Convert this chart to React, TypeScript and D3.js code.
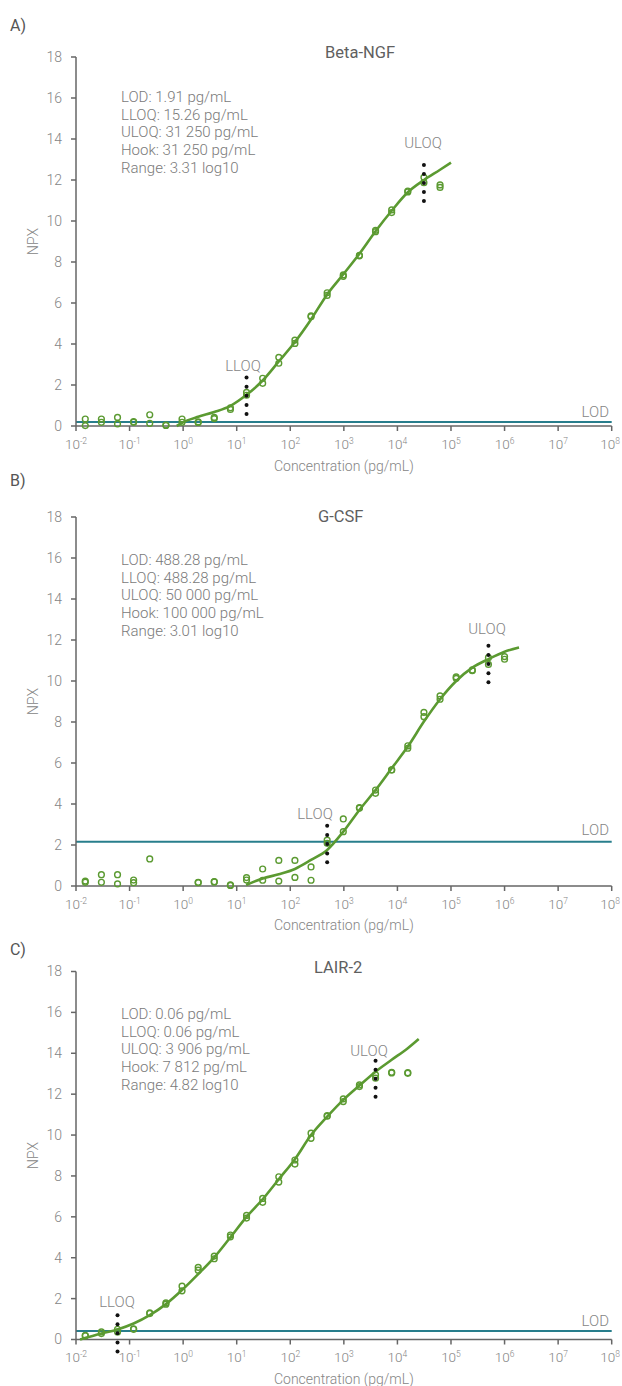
import React from 'react';
import * as d3 from 'd3';

// Concentrations (pg/mL), 2-fold dilution series
const CONC = [1000000, 500000, 250000, 125000, 62500, 31250, 15625, 7812.5, 3906.25, 1953.13, 976.56, 488.28, 244.14, 122.07, 61.04, 30.52, 15.26, 7.63, 3.81, 1.91, 0.954, 0.477, 0.238, 0.119, 0.0596, 0.0298, 0.0149];

const A_REP1 = [null, null, null, null, 11.76, 12.13, 11.46, 10.54, 9.55, 8.33, 7.37, 6.5, 5.37, 4.19, 3.35, 2.33, 1.64, 0.89, 0.42, 0.2, 0.34, 0.03, 0.55, 0.21, 0.42, 0.34, 0.34];
const A_REP2 = [null, null, null, null, 11.64, 11.87, 11.42, 10.41, 9.48, 8.3, 7.3, 6.37, 5.33, 4.03, 3.06, 2.08, 1.5, 0.81, 0.36, 0.17, 0.18, 0.05, 0.13, 0.18, 0.1, 0.18, 0.02];
const B_REP1 = [11.19, 11.14, 10.54, 10.13, 9.27, 8.47, 6.84, 5.66, 4.68, 3.82, 3.27, 2.24, 0.93, 1.25, 1.25, 0.83, 0.41, 0.05, 0.21, 0.18, null, null, 1.32, 0.29, 0.55, 0.55, 0.24];
const B_REP2 = [11.06, 10.81, 10.5, 10.2, 9.11, 8.26, 6.72, 5.66, 4.52, 3.8, 2.65, 2.08, 0.28, 0.42, 0.24, 0.28, 0.29, 0.03, 0.2, 0.16, null, null, null, 0.16, 0.1, 0.18, 0.18];
const C_REP1 = [null, null, null, null, null, null, 13.05, 13.07, 12.94, 12.45, 11.77, 10.95, 10.09, 8.78, 7.96, 6.9, 6.07, 5.11, 4.08, 3.53, 2.61, 1.79, 1.3, 0.5, 0.5, 0.37, 0.2];
const C_REP2 = [null, null, null, null, null, null, 13.02, 13.04, 12.78, 12.37, 11.64, 10.92, 9.84, 8.58, 7.7, 6.71, 5.94, 5.02, 3.95, 3.39, 2.38, 1.73, 1.27, 0.52, 0.37, 0.29, 0.18];

// Fitted curves
const A_FIT_X = [0.76, 1.17, 1.91, 3.81, 7.63, 15.26, 30.52, 61.04, 122.07, 244.14, 488.28, 976.56, 1953.13, 3906.25, 7812.5, 15625, 31250, 62500, 100000];
const A_FIT_Y = [0, 0.26, 0.45, 0.68, 0.98, 1.52, 2.22, 3.15, 4.1, 5.2, 6.42, 7.4, 8.4, 9.5, 10.5, 11.4, 12.0, 12.5, 12.85];
const B_FIT_X = [15, 30.52, 61.04, 122.07, 244.14, 488.28, 976.56, 1953.13, 3906.25, 7812.5, 15625, 31250, 62500, 125000, 250000, 500000, 1000000, 1860000];
const B_FIT_Y = [0.05, 0.37, 0.57, 0.83, 1.27, 1.76, 2.65, 3.71, 4.68, 5.74, 6.8, 8.02, 9.11, 10.0, 10.65, 11.07, 11.43, 11.64];
const C_FIT_X = [0.0119, 0.0298, 0.0596, 0.119, 0.238, 0.477, 0.954, 1.91, 3.81, 7.63, 15.26, 30.52, 61.04, 122.07, 244.14, 488.28, 976.56, 1953.13, 3906.25, 7812.5, 15625, 25000];
const C_FIT_Y = [0, 0.29, 0.49, 0.78, 1.19, 1.73, 2.42, 3.2, 4.02, 5.0, 6.0, 6.86, 7.84, 8.82, 10.0, 10.9, 11.72, 12.42, 13.1, 13.68, 14.25, 14.7];

// LLOQ / ULOQ replicate markers
const A_LLOQ = { conc: 15.26, npx: [2.36, 1.92, 1.48, 1.02, 0.59] };
const A_ULOQ = { conc: 31250, npx: [12.73, 12.29, 11.85, 11.41, 10.98] };
const B_LLOQ = { conc: 488.28, npx: [2.94, 2.49, 2.05, 1.59, 1.16] };
const B_ULOQ = { conc: 500000, npx: [11.72, 11.27, 10.83, 10.38, 9.94] };
const C_LLOQ = { conc: 0.0596, npx: [1.19, 0.75, 0.31, -0.15, -0.59] };
const C_ULOQ = { conc: 3906.25, npx: [13.64, 13.2, 12.75, 12.31, 11.87] };

const LOD_NPX = [0.2, 2.16, 0.41];

const A_TEXT = ['LOD: 1.91 pg/mL', 'LLOQ: 15.26 pg/mL', 'ULOQ: 31 250 pg/mL', 'Hook: 31 250 pg/mL', 'Range: 3.31 log10'];
const B_TEXT = ['LOD: 488.28 pg/mL', 'LLOQ: 488.28 pg/mL', 'ULOQ: 50 000 pg/mL', 'Hook: 100 000 pg/mL', 'Range: 3.01 log10'];
const C_TEXT = ['LOD: 0.06 pg/mL', 'LLOQ: 0.06 pg/mL', 'ULOQ: 3 906 pg/mL', 'Hook: 7 812 pg/mL', 'Range: 4.82 log10'];

const X_EXPONENTS = [-2, -1, 0, 1, 2, 3, 4, 5, 6, 7, 8];
const Y_TICKS = [0, 2, 4, 6, 8, 10, 12, 14, 16, 18];

const GREEN = '#5b9a31';
const TEAL = '#287e8c';
const AXIS = '#666';
const TXT = '#858585';
const FONT = 'Roboto, "Liberation Sans", sans-serif';

const PANELS = [
  { label: 'A)', labelY: 25, title: 'Beta-NGF', titleX: 325, titleY: 52, top: 57, bottom: 426,
    r1: A_REP1, r2: A_REP2, fx: A_FIT_X, fy: A_FIT_Y, lloq: A_LLOQ, uloq: A_ULOQ, lod: LOD_NPX[0], text: A_TEXT,
    textY: 97, lloqLbl: [243, 366], uloqLbl: [423, 143], lodLblY: 412, titleYX: 466 },
  { label: 'B)', labelY: 480, title: 'G-CSF', titleX: 318, titleY: 516, top: 517, bottom: 886,
    r1: B_REP1, r2: B_REP2, fx: B_FIT_X, fy: B_FIT_Y, lloq: B_LLOQ, uloq: B_ULOQ, lod: LOD_NPX[1], text: B_TEXT,
    textY: 560, lloqLbl: [315, 814], uloqLbl: [487, 629], lodLblY: 830, titleYX: 925 },
  { label: 'C)', labelY: 949, title: 'LAIR-2', titleX: 314, titleY: 967, top: 971.5, bottom: 1339.5,
    r1: C_REP1, r2: C_REP2, fx: C_FIT_X, fy: C_FIT_Y, lloq: C_LLOQ, uloq: C_ULOQ, lod: LOD_NPX[2], text: C_TEXT,
    textY: 1014, lloqLbl: [117, 1302], uloqLbl: [369, 1051], lodLblY: 1321, titleYX: 1379 },
];

const x = d3.scaleLog().domain([1e-2, 1e8]).range([76, 611.7]);

function Panel({ p }: { p: any }) {
  const y = d3.scaleLinear().domain([0, 18]).range([p.bottom, p.top]);
  const line = d3.line<[number, number]>()
    .x((d) => x(d[0]))
    .y((d) => y(d[1]))
    .curve(d3.curveMonotoneX);
  const fit: [number, number][] = p.fx.map((c: number, i: number) => [c, p.fy[i]]);
  const pts: { c: number; v: number }[] = [];
  CONC.forEach((c, i) => {
    if (p.r1[i] != null) pts.push({ c, v: p.r1[i] });
    if (p.r2[i] != null) pts.push({ c, v: p.r2[i] });
  });
  const [x0, x1] = x.range();
  return (
    <g fontFamily={FONT}>
      <text x={10} y={p.labelY} dy="0.35em" fontSize={16} fill="#555" fontWeight={400}>{p.label}</text>
      <text x={p.titleX} y={p.titleY} dy="0.35em" fontSize={16.5} fill="#5f5f5f" fontWeight={400}>{p.title}</text>
      {p.text.map((t: string, i: number) => (
        <text key={i} x={121} y={p.textY + i * 17.6} dy="0.35em" fontSize={15} fontWeight={300} fill="#7a7a7a">{t}</text>
      ))}
      {/* LOD line */}
      <line x1={x0} x2={x1} y1={y(p.lod)} y2={y(p.lod)} stroke={TEAL} strokeWidth={2} />
      <text x={609} y={p.lodLblY} dy="0.35em" textAnchor="end" fontSize={15} fontWeight={300} fill={TXT}>LOD</text>
      {/* axes */}
      <line x1={x0} x2={x1} y1={p.bottom} y2={p.bottom} stroke={AXIS} strokeWidth={1.5} />
      <line x1={x0} x2={x0} y1={p.top} y2={p.bottom} stroke={AXIS} strokeWidth={1.5} />
      {Y_TICKS.map((t) => (
        <g key={t}>
          <line x1={x0 - 5} x2={x0} y1={y(t)} y2={y(t)} stroke={AXIS} strokeWidth={1.5} />
          <text x={62} y={y(t)} dy="0.35em" textAnchor="end" fontSize={14} fontWeight={300} fill={TXT}>{t}</text>
        </g>
      ))}
      {X_EXPONENTS.map((e) => (
        <g key={e}>
          <line x1={x(Math.pow(10, e))} x2={x(Math.pow(10, e))} y1={p.bottom} y2={p.bottom + 5} stroke={AXIS} strokeWidth={1.5} />
          <text x={x(Math.pow(10, e)) - (e === 8 ? 1.5 : 0)} y={p.bottom + 18} dy="0.35em" textAnchor="middle" fontSize={13.5} fontWeight={300} fill={TXT}>
            10<tspan fontSize={8.5} dy={-5}>{e < 0 ? '-' + Math.abs(e) : e}</tspan>
          </text>
        </g>
      ))}
      <text x={(x0 + x1) / 2} y={p.titleYX} dy="0.35em" textAnchor="middle" fontSize={14} fontWeight={300} fill={TXT}>Concentration (pg/mL)</text>
      <text transform={`translate(33,${(p.top + p.bottom) / 2}) rotate(-90)`} dy="0.35em" textAnchor="middle" fontSize={14} fontWeight={300} fill={TXT}>NPX</text>
      {/* replicate points */}
      {pts.map((d, i) => (
        <circle key={i} cx={x(d.c)} cy={y(d.v)} r={2.9} fill="none" stroke={GREEN} strokeWidth={1.4} />
      ))}
      {/* fitted curve */}
      <path d={line(fit) || ''} fill="none" stroke={GREEN} strokeWidth={2.6} />
      {/* LLOQ / ULOQ dots */}
      {[p.lloq, p.uloq].map((q: any, j: number) =>
        q.npx.map((v: number, i: number) => (
          <circle key={j + '-' + i} cx={x(q.conc)} cy={y(v)} r={2} fill="#111" />
        ))
      )}
      <text x={p.lloqLbl[0]} y={p.lloqLbl[1]} dy="0.35em" textAnchor="middle" fontSize={15} fontWeight={300} fill={TXT}>LLOQ</text>
      <text x={p.uloqLbl[0]} y={p.uloqLbl[1]} dy="0.35em" textAnchor="middle" fontSize={15} fontWeight={300} fill={TXT}>ULOQ</text>
    </g>
  );
}

export default function App() {
  return (
    <svg width={622} height={1386} style={{ position: 'absolute', left: 0, top: 0, background: '#fff' }}>
      {PANELS.map((p, i) => (
        <Panel key={i} p={p} />
      ))}
    </svg>
  );
}
